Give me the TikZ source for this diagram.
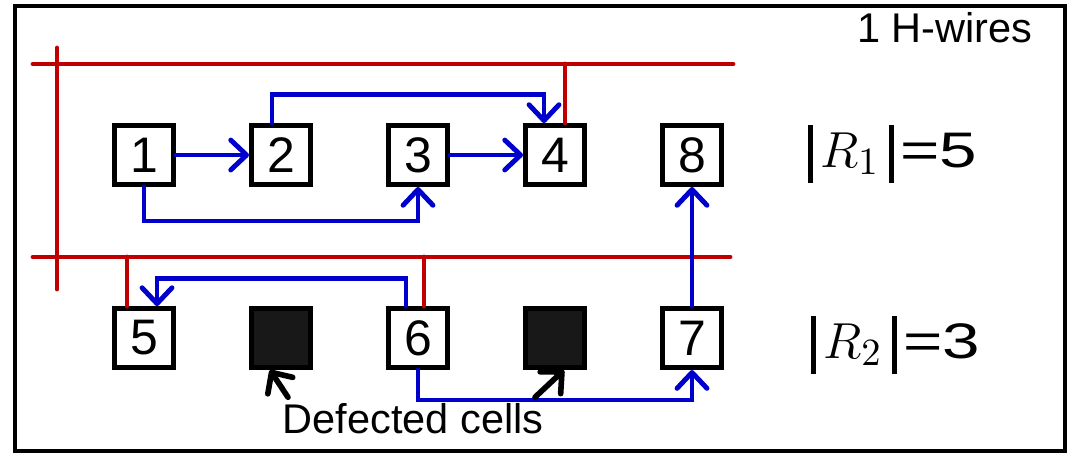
\documentclass[tikz,border=0pt]{standalone}
\usepackage{fontspec}
\usepackage{graphicx}
\setmainfont{Liberation Sans}
\usetikzlibrary{arrows.meta,positioning}
\definecolor{wirered}{RGB}{192,0,0}
\definecolor{routeblue}{RGB}{0,0,204}
\definecolor{deadgray}{RGB}{24,24,24}
\newcommand{\rowbar}{\rule[-0.16cm]{0.05cm}{0.58cm}}
\newcommand{\rowsize}[2]{\rowbar\kern0.08cm{\fontsize{15.5}{18}\selectfont$R_{#1}$}\kern0.1cm\rowbar\kern0.06cm\scalebox{1.35}[1]{=#2}}

\begin{document}
\begin{tikzpicture}[x=0.01cm, y=-0.01cm, line cap=round,
  cell/.style={draw, line width=1.4pt, fill=white, minimum size=0.59cm,
               inner sep=0pt, font=\fontsize{14.2}{14.2}\selectfont},
  dead/.style={cell, fill=deadgray},
  hwire/.style={draw=wirered, line width=1.4pt},
  route/.style={draw=routeblue, line width=1.4pt,
                -{Straight Barb[length=4.5pt,width=8.5pt,round]}},
  pointer/.style={line width=1.6pt, -{Straight Barb[length=4.5pt,width=8.5pt,round]}},
  notetext/.style={font=\fontsize{11.8}{14}\selectfont, inner sep=0pt},
  rowtext/.style={font=\fontsize{14.2}{16}\selectfont, inner sep=0pt, anchor=base west}]
  \useasboundingbox (0,0) rectangle (1071,453);
  \draw[line width=1.4pt] (15,6) rectangle (1065,451);

  \coordinate (h1w) at (33,64);
  \coordinate (h1e) at (733,64);
  \coordinate (h2w) at (33,257);
  \coordinate (h2e) at (730,257);
  \coordinate (vtop) at (57,48);
  \coordinate (vbot) at (57,289);
  \draw[hwire] (h1w) -- (h1e);
  \draw[hwire] (h2w) -- (h2e);
  \draw[hwire] (vtop) -- (vbot);

  \node[cell] (c1) at (144,155) {1};
  \node[cell, right=0.73cm of c1] (c2) {2};
  \node[cell, right=0.73cm of c2] (c3) {3};
  \node[cell, right=0.73cm of c3] (c4) {4};
  \node[cell, right=0.73cm of c4] (c8) {8};
  \node[cell, below=1.19cm of c1] (c5) {5};
  \node[dead, right=0.73cm of c5] (d1) {};
  \node[cell, right=0.73cm of d1] (c6) {6};
  \node[dead, right=0.73cm of c6] (d2) {};
  \node[cell, right=0.73cm of d2] (c7) {7};

  \draw[hwire] ([xshift=0.1cm]c4.north) -- ([xshift=0.1cm]c4.north |- h1w);
  \draw[hwire] ([xshift=-0.17cm]c5.north) -- ([xshift=-0.17cm]c5.north |- h2w);
  \draw[hwire] ([xshift=0.06cm]c6.north) -- ([xshift=0.06cm]c6.north |- h2w);

  \draw[route] (c1) -- (c2);
  \draw[route] (c3) -- (c4);
  \draw[route] (c1.south) -- ++(0,34) -| (c3.south);
  \draw[route] ([xshift=-0.09cm]c2.north) -- ++(0,-29) -| ([xshift=-0.11cm]c4.north);
  \draw[route] ([xshift=-0.12cm]c6.north) -- ++(0,-28) -| ([xshift=0.13cm]c5.north);
  \draw[route] (c6.south) -- ++(0,30) -| (c7.south);
  \draw[route] (c7) -- (c8);

  \node[notetext, anchor=base] (defect) at (413,433) {Defected cells};
  \draw[pointer] ([shift={(0.06cm,0.05cm)}]defect.north west) -- ([xshift=-0.11cm]d1.south);
  \draw[pointer] ([shift={(-0.09cm,0.05cm)}]defect.north east) -- ([xshift=0.09cm]d2.south);

  \node[notetext, anchor=base east] (hwires) at (1033,42) {1 H-wires};
  \node[rowtext] (r1) at (807,167) {\rowsize{1}{5}};
  \node[rowtext] (r2) at (810,358) {\rowsize{2}{3}};
\end{tikzpicture}
\end{document}
